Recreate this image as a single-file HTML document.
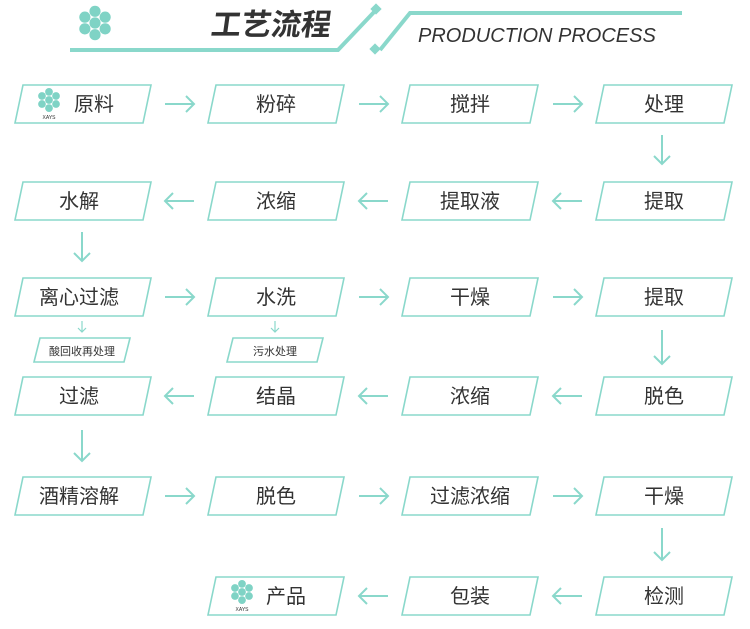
<!DOCTYPE html>
<html><head><meta charset="utf-8"><style>
html,body{margin:0;padding:0;background:#fff;}
svg{display:block;}
text{font-family:"Liberation Sans","Noto Sans CJK SC",sans-serif;fill:#333;}
</style></head><body>
<svg width="750" height="629" viewBox="0 0 750 629" xmlns="http://www.w3.org/2000/svg">
<defs>
<g id="logo">
<circle cx="0" cy="0" r="4.3" fill="#7fd3c5"/>
<circle cx="0" cy="-9" r="4.3" fill="#7fd3c5"/>
<circle cx="7.8" cy="-4.5" r="4.3" fill="#7fd3c5"/>
<circle cx="7.8" cy="4.5" r="4.3" fill="#7fd3c5"/>
<circle cx="0" cy="9" r="4.3" fill="#7fd3c5"/>
<circle cx="-7.8" cy="4.5" r="4.3" fill="#7fd3c5"/>
<circle cx="-7.8" cy="-4.5" r="4.3" fill="#7fd3c5"/>
</g>
</defs>
<!-- header -->
<use href="#logo" transform="translate(95,23) scale(1.3)"/>
<g transform="translate(210,35) skewX(-8)">
<text x="0" y="0" font-size="30" font-weight="bold" fill="#222">工艺流程</text>
</g>
<polyline points="70,50 338,50 376,10" fill="none" stroke="#8ad8cb" stroke-width="4"/>
<rect x="372" y="5" width="8" height="8" fill="#8ad8cb" transform="rotate(45 376 9)"/>
<polyline points="380,50 410,13 682,13" fill="none" stroke="#8ad8cb" stroke-width="4"/>
<rect x="371" y="45" width="8" height="8" fill="#8ad8cb" transform="rotate(45 375 49)"/>
<text x="418" y="42" font-size="20" font-style="italic" fill="#222">PRODUCTION PROCESS</text>

<g fill="none" stroke="#8ad8cb" stroke-width="1.6">
<polygon points="23,85 151,85 143,123 15,123"/>
<polygon points="216,85 344,85 336,123 208,123"/>
<polygon points="410,85 538,85 530,123 402,123"/>
<polygon points="604,85 732,85 724,123 596,123"/>

<polygon points="23,182 151,182 143,220 15,220"/>
<polygon points="216,182 344,182 336,220 208,220"/>
<polygon points="410,182 538,182 530,220 402,220"/>
<polygon points="604,182 732,182 724,220 596,220"/>

<polygon points="23,278 151,278 143,316 15,316"/>
<polygon points="216,278 344,278 336,316 208,316"/>
<polygon points="410,278 538,278 530,316 402,316"/>
<polygon points="604,278 732,278 724,316 596,316"/>

<polygon points="40,338 130,338 124,362 34,362"/>
<polygon points="233,338 323,338 317,362 227,362"/>

<polygon points="23,377 151,377 143,415 15,415"/>
<polygon points="216,377 344,377 336,415 208,415"/>
<polygon points="410,377 538,377 530,415 402,415"/>
<polygon points="604,377 732,377 724,415 596,415"/>

<polygon points="23,477 151,477 143,515 15,515"/>
<polygon points="216,477 344,477 336,515 208,515"/>
<polygon points="410,477 538,477 530,515 402,515"/>
<polygon points="604,477 732,477 724,515 596,515"/>

<polygon points="216,577 344,577 336,615 208,615"/>
<polygon points="410,577 538,577 530,615 402,615"/>
<polygon points="604,577 732,577 724,615 596,615"/>
</g>

<g fill="none" stroke="#8ad8cb" stroke-width="2">
<path d="M165,104 H194 M186,96 L194,104 L186,112"/>
<path d="M359,104 H388 M380,96 L388,104 L380,112"/>
<path d="M553,104 H582 M574,96 L582,104 L574,112"/>
<path d="M165,201 H194 M173,193 L165,201 L173,209"/>
<path d="M359,201 H388 M367,193 L359,201 L367,209"/>
<path d="M553,201 H582 M561,193 L553,201 L561,209"/>
<path d="M165,297 H194 M186,289 L194,297 L186,305"/>
<path d="M359,297 H388 M380,289 L388,297 L380,305"/>
<path d="M553,297 H582 M574,289 L582,297 L574,305"/>
<path d="M165,396 H194 M173,388 L165,396 L173,404"/>
<path d="M359,396 H388 M367,388 L359,396 L367,404"/>
<path d="M553,396 H582 M561,388 L553,396 L561,404"/>
<path d="M165,496 H194 M186,488 L194,496 L186,504"/>
<path d="M359,496 H388 M380,488 L388,496 L380,504"/>
<path d="M553,496 H582 M574,488 L582,496 L574,504"/>
<path d="M359,596 H388 M367,588 L359,596 L367,604"/>
<path d="M553,596 H582 M561,588 L553,596 L561,604"/>
<path d="M662,135 V164 M654,156 L662,164 L670,156"/>
<path d="M82,232 V261 M74,253 L82,261 L90,253"/>
<path d="M662,330 V364 M654,356 L662,364 L670,356"/>
<path d="M82,430 V461 M74,453 L82,461 L90,453"/>
<path d="M662,528 V560 M654,552 L662,560 L670,552"/>
</g>
<g fill="none" stroke="#8ad8cb" stroke-width="1.2">
<path d="M82,321 V332 M78,328 L82,332 L86,328"/>
<path d="M275,321 V332 M271,328 L275,332 L279,328"/>
</g>

<g font-size="20" text-anchor="middle">
<text x="94" y="111">原料</text>
<text x="276" y="111">粉碎</text>
<text x="470" y="111">搅拌</text>
<text x="664" y="111">处理</text>

<text x="79" y="208">水解</text>
<text x="276" y="208">浓缩</text>
<text x="470" y="208">提取液</text>
<text x="664" y="208">提取</text>

<text x="79" y="304">离心过滤</text>
<text x="276" y="304">水洗</text>
<text x="470" y="304">干燥</text>
<text x="664" y="304">提取</text>

<text x="79" y="403">过滤</text>
<text x="276" y="403">结晶</text>
<text x="470" y="403">浓缩</text>
<text x="664" y="403">脱色</text>

<text x="79" y="503">酒精溶解</text>
<text x="276" y="503">脱色</text>
<text x="470" y="503">过滤浓缩</text>
<text x="664" y="503">干燥</text>

<text x="286" y="603">产品</text>
<text x="470" y="603">包装</text>
<text x="664" y="603">检测</text>
</g>
<g font-size="11" text-anchor="middle">
<text x="82" y="355">酸回收再处理</text>
<text x="275" y="355">污水处理</text>
</g>
<use href="#logo" transform="translate(49,100) scale(0.9)"/>
<text x="49" y="119" font-size="5" text-anchor="middle" fill="#8ad8cb">XAYS</text>
<use href="#logo" transform="translate(242,592) scale(0.9)"/>
<text x="242" y="611" font-size="5" text-anchor="middle" fill="#8ad8cb">XAYS</text>
</svg>
</body></html>
